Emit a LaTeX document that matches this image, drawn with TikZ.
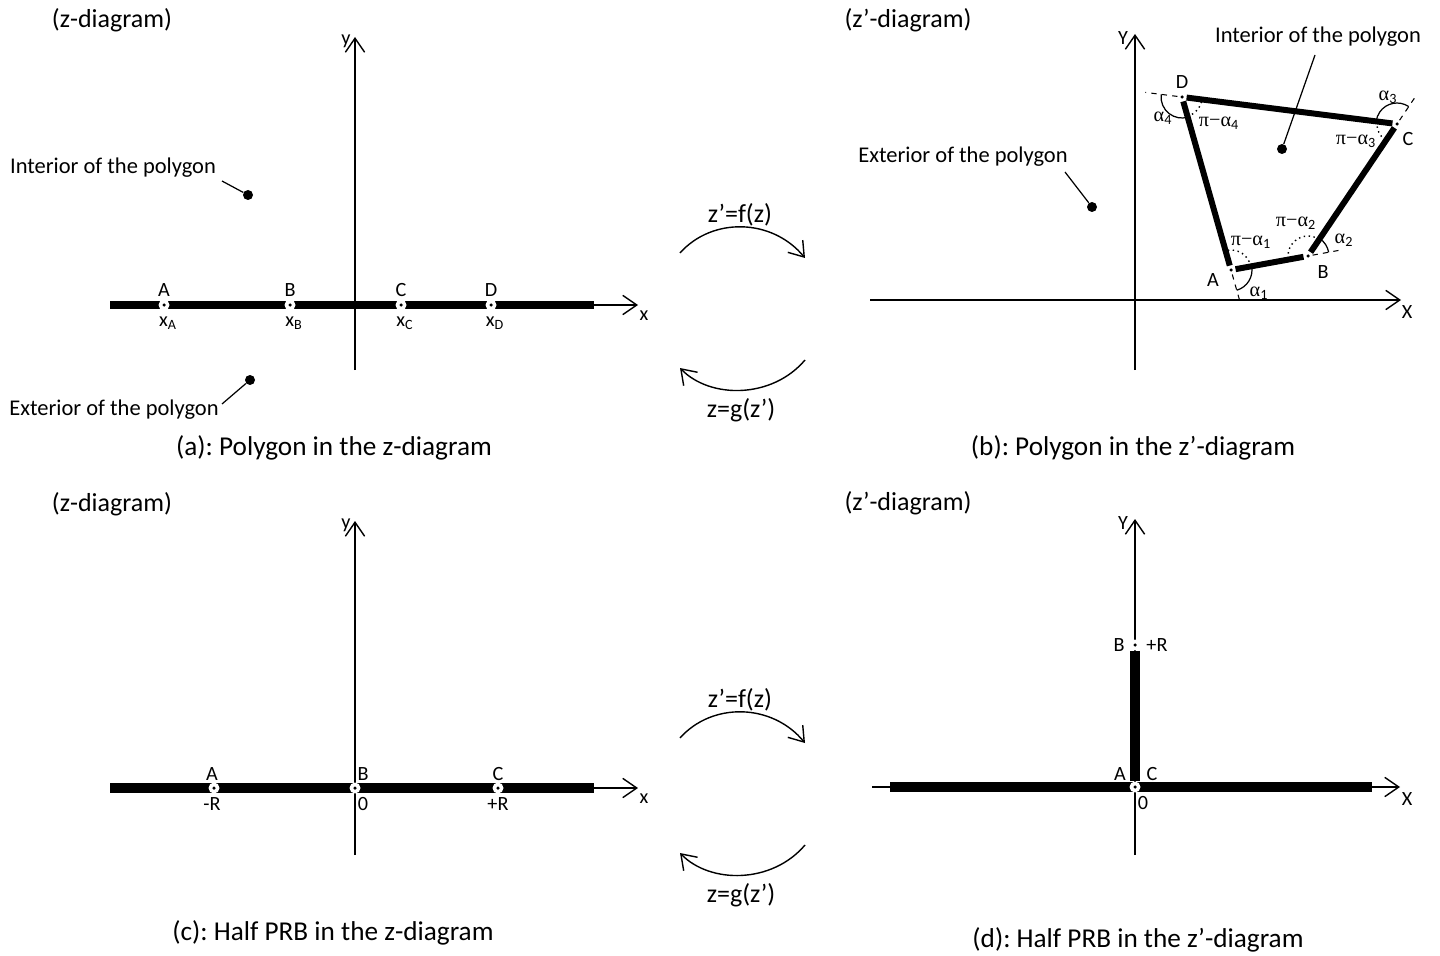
\documentclass[tikz,border=0pt]{standalone}
\usepackage{fontspec}
\setmainfont{Carlito}
\newfontfamily\grkfont{Liberation Serif}
\usetikzlibrary{arrows.meta, angles, calc}
\frenchspacing
\tikzstyle{txt}=[inner sep=0,font=\fontsize{12.8}{15}\selectfont]
\tikzstyle{big}=[inner sep=0,font=\fontsize{14.8}{17}\selectfont]
\tikzstyle{captxt}=[inner sep=0,font=\fontsize{15.5}{18}\selectfont]
\tikzstyle{lbl}=[inner sep=0,font=\fontsize{11.5}{13}\selectfont]
\tikzstyle{grk}=[inner sep=0,font=\fontsize{11.5}{13}\selectfont]
\tikzstyle{axis}=[line width=0.8pt,-{Straight Barb[length=8pt,width=11pt,line width=0.8pt]}]
\tikzstyle{flow}=[line width=0.8pt,-{Straight Barb[length=8pt,width=11pt,line width=0.8pt]}]
\tikzstyle{edge}=[line width=4pt]
\tikzstyle{wide}=[line width=5.7pt]
\tikzstyle{pedge}=[line width=3.4pt]
\tikzstyle{lead}=[line width=0.7pt]
\tikzstyle{extline}=[dashed,line width=0.6pt]
\tikzstyle{extarc}=[draw,line width=0.7pt,angle radius=0.42cm]
\tikzstyle{intarc}=[draw,dotted,line width=0.8pt,angle radius=0.4cm]
\tikzstyle{bigdot}=[shape=circle,minimum size=0.2cm,inner sep=0,fill=black]
\tikzstyle{ptdot}=[shape=circle,minimum size=0.22cm,inner sep=0,fill=white,
  path picture={\fill[black] (path picture bounding box.center) circle (0.035cm);}]
\tikzstyle{vdot}=[ptdot,minimum size=0.17cm]

\begin{document}
\begin{tikzpicture}[x=0.02cm,y=-0.02cm]
\useasboundingbox (0,0) rectangle (1440,956);

% (a): polygon in the z-diagram
\node[big] (za) at (112,20) {(z-diagram)};
\coordinate (a-xl) at (110,305);
\coordinate (a-xr) at (594,305);
\coordinate (a-xt) at (638,305);
\coordinate (a-yb) at (355,370);
\coordinate (a-yt) at (355,37);
\draw[axis] (a-xl) -- (a-xt);
\draw[axis] (a-yb) -- (a-yt);
\draw[edge] (a-xl) -- (a-xr);
\node[lbl] (a-xn) at (644,316) {x};
\node[lbl] (a-yn) at (346,41) {y};
\foreach \p/\x in {A/164,B/290,C/401,D/491}{
	\node[ptdot] (a\p) at (\x,305) {};
	\node[lbl] (a\p-n) at (\x,290) {\p};
	\node[lbl] (a\p-x) at (\x+4,323) {x\textsubscript{\p}};
}
\node[txt] (a-intxt) at (113,168) {Interior of the polygon};
\node[bigdot] (a-in) at (248,195) {};
\coordinate (a-inl) at (222,181);
\draw[lead] (a-inl) -- (a-in);
\node[txt] (a-extxt) at (114,410) {Exterior of the polygon};
\node[bigdot] (a-ex) at (250,380) {};
\coordinate (a-exl) at (222,404);
\draw[lead] (a-exl) -- (a-ex);
\node[captxt] (a-cap) at (334,448) {(a): Polygon in the z-diagram};

% (b): polygon in the z'-diagram
\node[big] (zb) at (908,20) {(z’-diagram)};
\coordinate (b-xl) at (870,300);
\coordinate (b-xt) at (1401,300);
\coordinate (b-yb) at (1135,370);
\coordinate (b-yt) at (1135,34);
\draw[axis] (b-xl) -- (b-xt);
\draw[axis] (b-yb) -- (b-yt);
\node[lbl] (b-xn) at (1407,312) {X};
\node[lbl] (b-yn) at (1123,38) {Y};
\node[vdot] (A) at (1231,270) {};
\node[vdot] (B) at (1308,256) {};
\node[vdot] (C) at (1397,124) {};
\node[vdot] (D) at (1182,97) {};
\coordinate (Ae) at ($(A)!-0.62cm!(D)$);
\coordinate (Be) at ($(B)!-0.72cm!(A)$);
\coordinate (Ce) at ($(C)!-0.66cm!(B)$);
\coordinate (De) at ($(D)!-0.74cm!(C)$);
\draw[extline] (A) -- (Ae);
\draw[extline] (B) -- (Be);
\draw[extline] (C) -- (Ce);
\draw[extline] (D) -- (De);
\draw[pedge] (A) -- (B);
\draw[pedge] (B) -- (C);
\draw[pedge] (C) -- (D);
\draw[pedge] (D) -- (A);
\pic[extarc] {angle=Ae--A--B};
\pic[extarc] {angle=Be--B--C};
\pic[extarc] {angle=Ce--C--D};
\pic[extarc] {angle=De--D--A};
\pic[intarc] {angle=B--A--D};
\pic[intarc] {angle=C--B--A};
\pic[intarc] {angle=D--C--B};
\pic[intarc] {angle=A--D--C};
\node[lbl] (A-n) at (1213,280) {A};
\node[lbl] (B-n) at (1323,272) {B};
\node[lbl] (C-n) at (1408,139) {C};
\node[lbl] (D-n) at (1182,82) {D};
\node[grk] (a1) at (1259,293) {{\grkfont α}\textsubscript{1}};
\node[grk] (a2) at (1344,240) {{\grkfont α}\textsubscript{2}};
\node[grk] (a3) at (1388,97) {{\grkfont α}\textsubscript{3}};
\node[grk] (a4) at (1163,118) {{\grkfont α}\textsubscript{4}};
\node[grk] (pa1) at (1251,242) {{\grkfont π−α}\textsubscript{1}};
\node[grk] (pa2) at (1296,223) {{\grkfont π−α}\textsubscript{2}};
\node[grk] (pa3) at (1356,141) {{\grkfont π−α}\textsubscript{3}};
\node[grk] (pa4) at (1219,123) {{\grkfont π−α}\textsubscript{4}};
\node[txt] (b-intxt) at (1318,37) {Interior of the polygon};
\node[bigdot] (b-in) at (1282,149) {};
\coordinate (b-inl) at (1315,55);
\draw[lead] (b-inl) -- (b-in);
\node[txt] (b-extxt) at (963,157) {Exterior of the polygon};
\node[bigdot] (b-ex) at (1092,207) {};
\coordinate (b-exl) at (1065,172);
\draw[lead] (b-exl) -- (b-ex);
\node[captxt] (b-cap) at (1133,448) {(b): Polygon in the z’-diagram};

% mappings between the two planes
\foreach \r/\dy in {1/0,2/485}{
	\coordinate (f\r-s) at (680,253+\dy);
	\coordinate (f\r-e) at (805,258+\dy);
	\coordinate (g\r-s) at (805,360+\dy);
	\coordinate (g\r-e) at (680,368+\dy);
	\draw[flow] (f\r-s) .. controls (712,217+\dy) and (772,218+\dy) .. (f\r-e);
	\draw[flow] (g\r-s) .. controls (772,399+\dy) and (710,399+\dy) .. (g\r-e);
	\node[big] (f\r) at (740,215+\dy) {z’=f(z)};
	\node[big] (g\r) at (741,410+\dy) {z=g(z’)};
}

% (c): half PRB in the z-diagram
\node[big] (zc) at (112,504) {(z-diagram)};
\coordinate (c-xl) at (110,788);
\coordinate (c-xr) at (594,788);
\coordinate (c-xt) at (638,788);
\coordinate (c-yb) at (355,855);
\coordinate (c-yt) at (355,521);
\draw[axis] (c-xl) -- (c-xt);
\draw[axis] (c-yb) -- (c-yt);
\draw[wide] (c-xl) -- (c-xr);
\node[lbl] (c-xn) at (644,799) {x};
\node[lbl] (c-yn) at (346,525) {y};
\foreach \p/\x/\dx/\v in {A/214/-2/-R,B/355/8/0,C/498/0/+R}{
	\node[ptdot] (c\p) at (\x,788) {};
	\node[lbl] (c\p-n) at (\x+\dx,774) {\p};
	\node[lbl] (c\p-v) at (\x+\dx,804) {\v};
}
\node[captxt] (c-cap) at (333,933) {(c): Half PRB in the z-diagram};

% (d): half PRB in the z'-diagram
\node[big] (zd) at (908,503) {(z’-diagram)};
\coordinate (d-xl) at (872,787);
\coordinate (d-wl) at (890,787);
\coordinate (d-wr) at (1372,787);
\coordinate (d-xt) at (1400,787);
\coordinate (d-yb) at (1135,855);
\coordinate (d-yt) at (1135,519);
\draw[axis] (d-xl) -- (d-xt);
\draw[axis] (d-yb) -- (d-yt);
\draw[wide] (d-wl) -- (d-wr);
\node[ptdot] (dB) at (1135,645) {};
\node[ptdot] (dAC) at (1135,787) {};
\draw[wide] (dB) -- (dAC);
\node[lbl] (d-xn) at (1407,799) {X};
\node[lbl] (d-yn) at (1123,523) {Y};
\node[lbl] (dB-n) at (1119,645) {B};
\node[lbl] (dB-v) at (1157,645) {+R};
\node[lbl] (dA-n) at (1120,774) {A};
\node[lbl] (dC-n) at (1152,774) {C};
\node[lbl] (dAC-v) at (1143,803) {0};
\node[captxt] (d-cap) at (1138,940) {(d): Half PRB in the z’-diagram};
\end{tikzpicture}
\end{document}
